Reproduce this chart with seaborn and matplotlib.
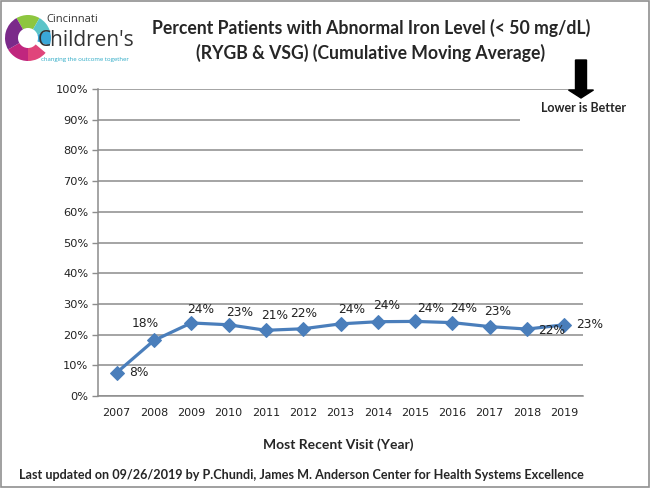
import numpy as np
import pandas as pd
import matplotlib.pyplot as plt
import matplotlib.patches as mpatches
import seaborn as sns

# data
years = ['2007', '2008', '2009', '2010', '2011', '2012', '2013',
         '2014', '2015', '2016', '2017', '2018', '2019']
pct = [7.6, 18.1, 23.8, 23.2, 21.4, 21.9, 23.5, 24.2, 24.3, 23.9, 22.6, 21.8, 23.2]
y_ticks = [0, 10, 20, 30, 40, 50, 60, 70, 80, 90, 100]

# label offsets in points (dx, dy)
label_offsets = [(16, 0), (-6, 12), (7, 10), (8, 9), (6, 11), (0, 11), (8, 10),
                 (6, 12), (11, 9), (8, 10), (6, 11), (18, -1), (18, 0)]

df = pd.DataFrame({'Year': years, 'Percent': pct})

sns.set_theme(style='white')
plt.rcParams['font.family'] = ['DejaVu Sans']

fig = plt.figure(figsize=(6.5, 4.88), dpi=100)
ax = fig.add_axes([98 / 650, 92 / 488, 485 / 650, 307 / 488])

blue = '#4a7ebb'
grid_c = '#8c8c8c'

sns.lineplot(data=df, x='Year', y='Percent', ax=ax, color=blue, linewidth=2.3,
             marker='D', markersize=7.5, markeredgecolor=blue, sort=False)

for i, (v, (dx, dy)) in enumerate(zip(pct, label_offsets)):
    ax.annotate(f'{round(v):.0f}%', (i, v), xytext=(dx, dy), textcoords='offset points',
                ha='center', va='center', fontsize=8.8, color='#222222')

ax.set_xlim(-0.5, len(years) - 0.5)
ax.set_ylim(0, 100)
ax.set_yticks(y_ticks)
ax.set_yticklabels([f'{t}%' for t in y_ticks], fontsize=8.2, color='#222222')
ax.set_xticks(range(len(years)))
ax.set_xticklabels(years, fontsize=8, color='#222222')
ax.set_xticks(np.arange(-0.5, len(years), 1), minor=True)
ax.tick_params(axis='x', which='major', length=0, pad=9)
ax.tick_params(axis='x', which='minor', length=4, width=1, color=grid_c, direction='out')
ax.tick_params(axis='y', length=4, width=1, color=grid_c, direction='out', left=True, pad=3)
ax.set_xlabel('')
ax.set_ylabel('')

ax.yaxis.grid(True, color=grid_c, linewidth=1.1)
ax.set_axisbelow(True)
for s in ['top', 'right']:
    ax.spines[s].set_visible(False)
for s in ['left', 'bottom']:
    ax.spines[s].set_color(grid_c)
    ax.spines[s].set_linewidth(1.1)

# titles and notes
bold = ['Lato', 'DejaVu Sans']
fig.text(371 / 650, 1 - 28 / 488, 'Percent Patients with Abnormal Iron Level (< 50 mg/dL)',
         ha='center', va='center', fontsize=12.7, fontweight='bold', family=bold)
fig.text(371 / 650, 1 - 53 / 488, '(RYGB & VSG) (Cumulative Moving Average)',
         ha='center', va='center', fontsize=12.7, fontweight='bold', family=bold)
fig.text(338 / 650, 1 - 445 / 488, 'Most Recent Visit (Year)',
         ha='center', va='center', fontsize=10, fontweight='bold', family=bold)
fig.text(19 / 650, 1 - 475 / 488,
         'Last updated on 09/26/2019 by P.Chundi, James M. Anderson Center for Health Systems Excellence',
         ha='left', va='center', fontsize=9.1, fontweight='bold', family=bold)

# "Lower is Better" box and arrow
fig.patches.append(mpatches.Rectangle((520 / 650, 1 - 124 / 488), 120 / 650, 26 / 488,
                                      transform=fig.transFigure, facecolor='white',
                                      edgecolor='none', zorder=5))
fig.text(584 / 650, 1 - 108 / 488, 'Lower is Better', ha='center', va='center',
         fontsize=9, fontweight='bold', family=bold, zorder=6)
fig.patches.append(mpatches.FancyArrow(581 / 650, 1 - 60 / 488, 0, -30 / 488, width=11 / 650,
                                       head_width=25 / 650, head_length=8 / 488,
                                       length_includes_head=False, transform=fig.transFigure,
                                       color='black', zorder=6))

# logo (approximate)
logo_colors = ['#8dc63f', '#5bc4c8', '#3aa7d8', '#e0457b', '#c0267e', '#7b2a8a']
logo_angles = [(60, 120), (20, 60), (-20, 20), (-90, -40), (-150, -90), (120, 210)]
for c, (a1, a2) in zip(logo_colors, logo_angles):
    fig.patches.append(mpatches.Wedge((28, 488 - 38), 23, a1, a2, width=13,
                                      transform=None, facecolor=c, edgecolor='none'))
fig.text(46 / 650, 1 - 19 / 488, 'Cincinnati', fontsize=8, color='#333333',
         ha='left', va='center', family=['Open Sans', 'DejaVu Sans'])
fig.text(38 / 650, 1 - 40 / 488, "Children's", fontsize=15, color='#333333',
         ha='left', va='center', family=['Open Sans', 'DejaVu Sans'])
fig.text(41 / 650, 1 - 59 / 488, 'changing the outcome together', fontsize=4.3, color='#29a9c5',
         ha='left', va='center', family=['Open Sans', 'DejaVu Sans'])

# outer frame
fig.patches.append(mpatches.Rectangle((0.002, 0.002), 0.996, 0.995, transform=fig.transFigure,
                                      facecolor='none', edgecolor='#909090', linewidth=1.2))

fig.savefig('out.png', dpi=100)
